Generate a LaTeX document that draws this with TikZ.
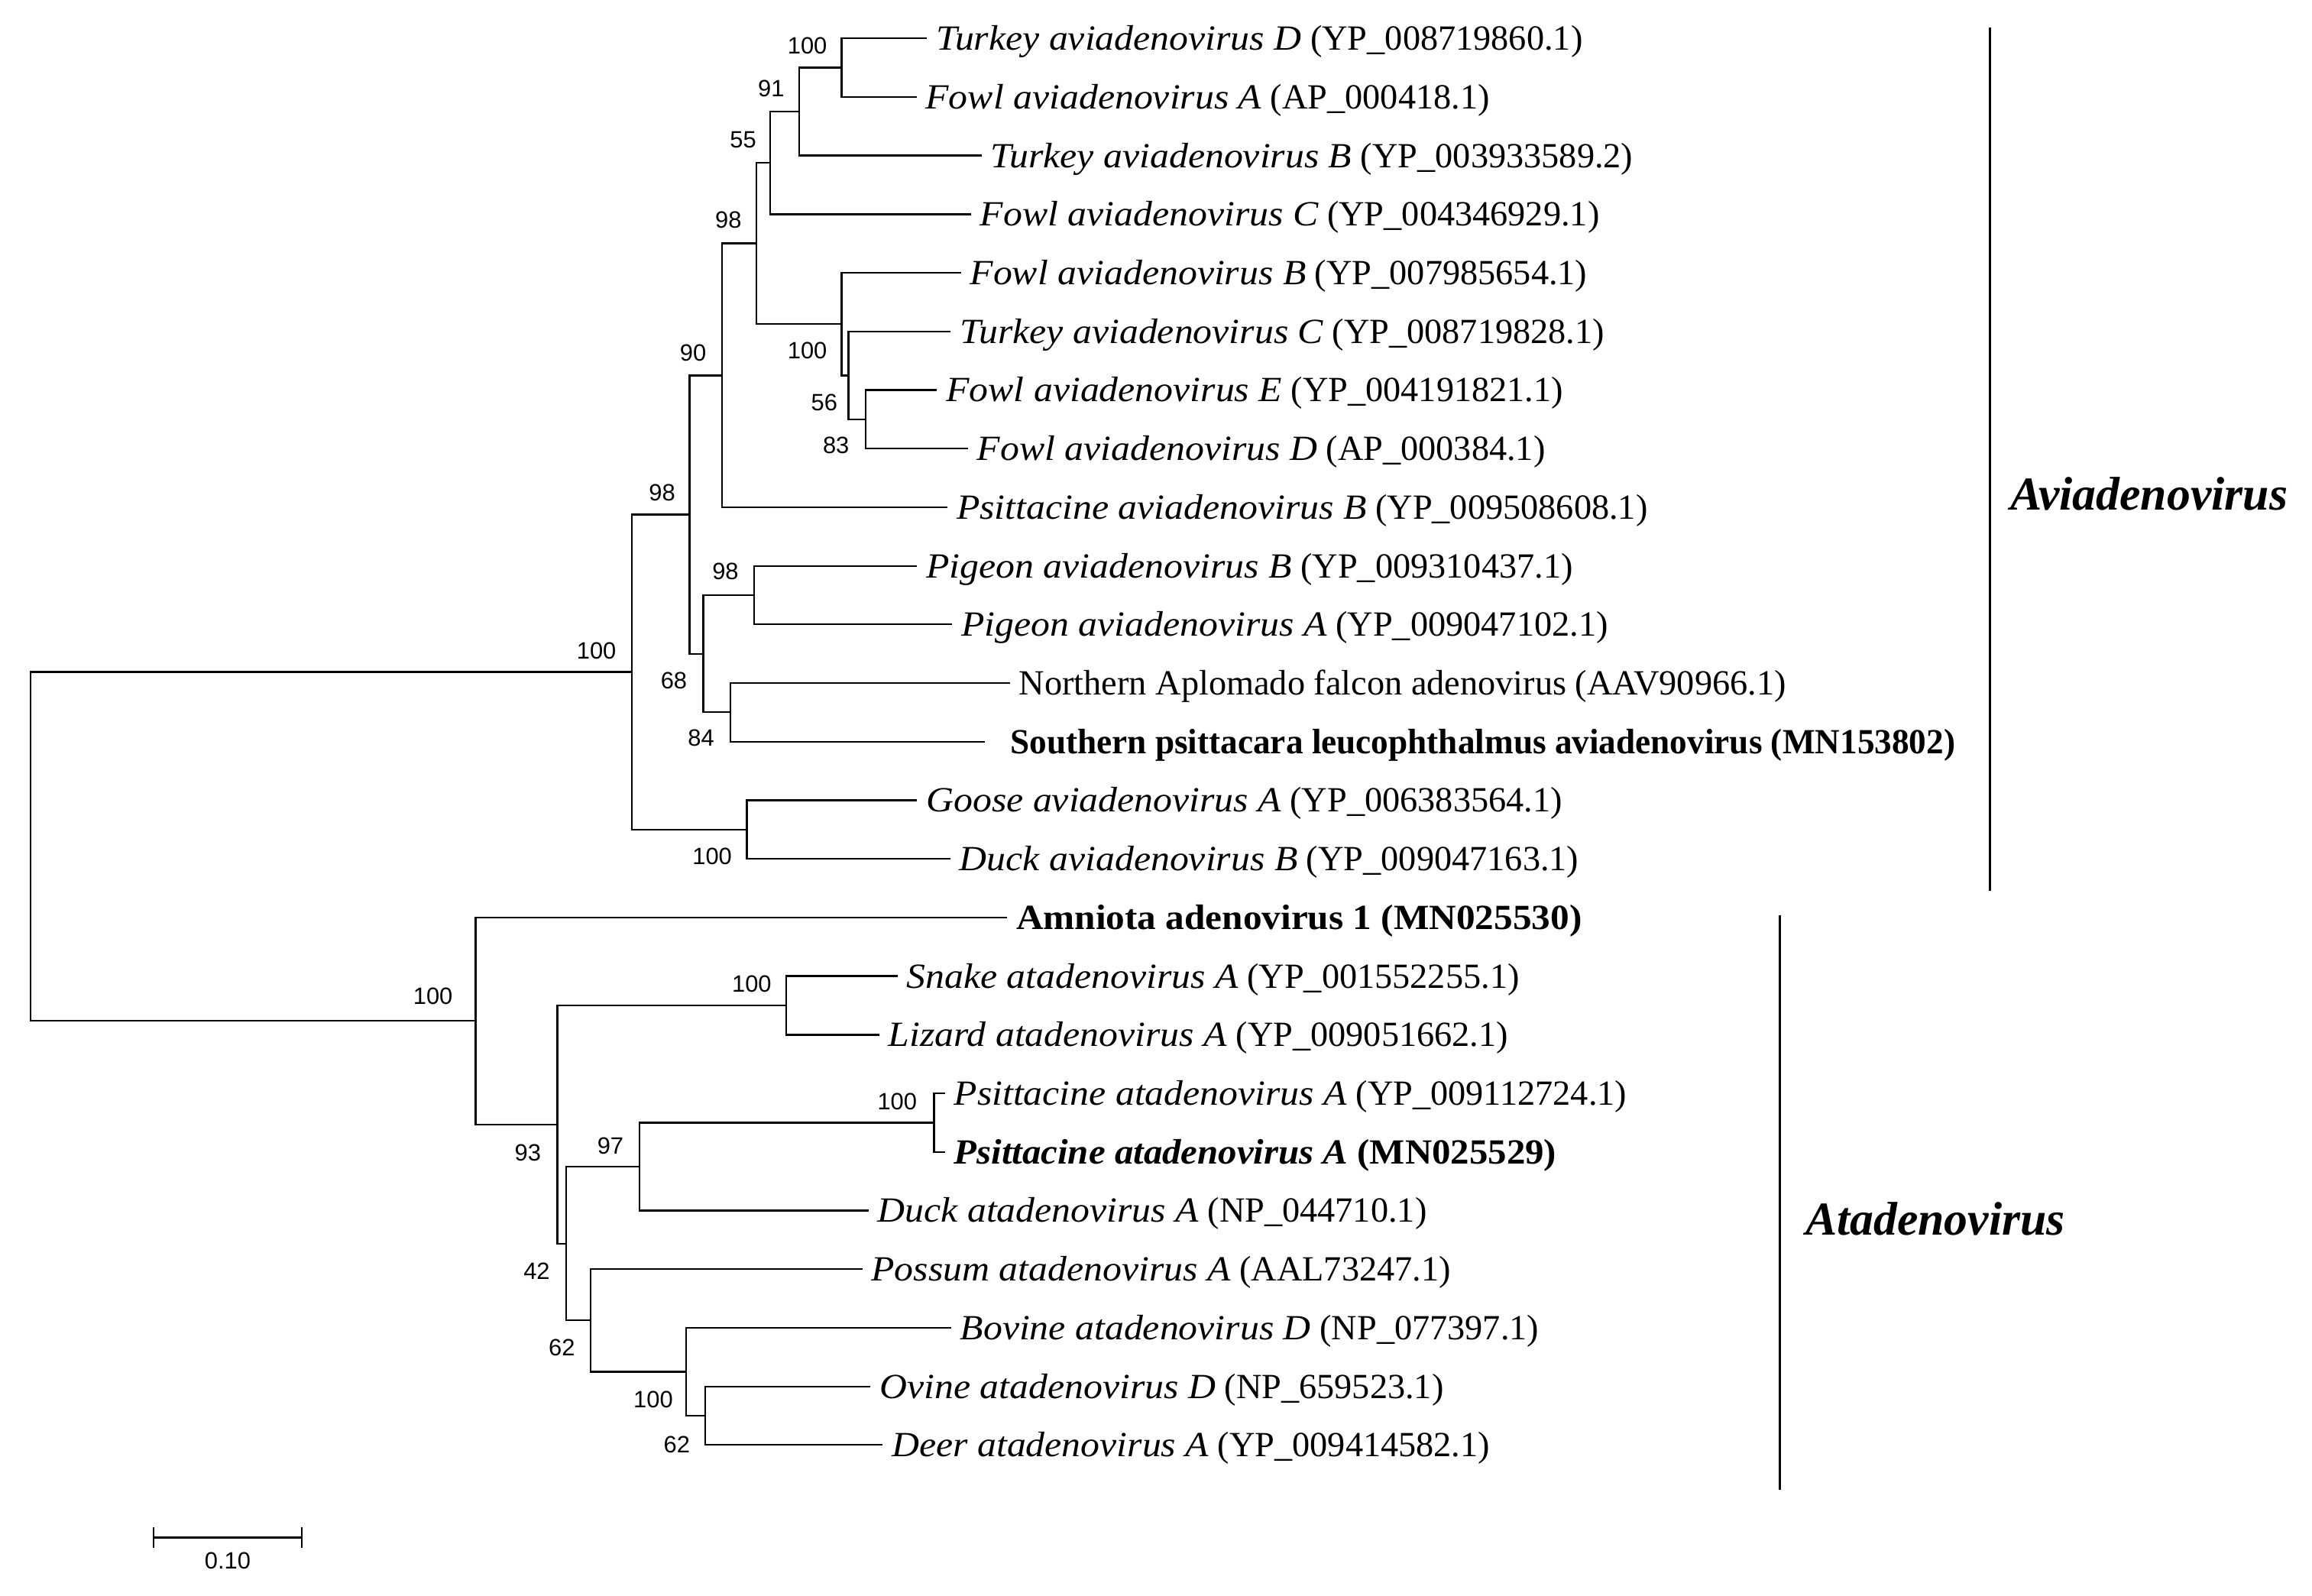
\documentclass[tikz,border=0pt]{standalone}
\usepackage{graphicx}
\usepackage{fontspec}
\setmainfont{Liberation Serif}
\setsansfont{Liberation Sans}
\usetikzlibrary{calc}

\newcommand{\spname}[1]{\scalebox{1.075}[1]{\itshape #1}}

\tikzset{
  branch/.style={line width=1.2pt},
  cladebar/.style={line width=1.5pt},
  leaf/.style={anchor=base west, inner sep=0pt, xshift=6pt, yshift=-8pt,
    font=\fontsize{24}{24}\selectfont},
  boot/.style={inner sep=0pt, font=\sffamily\fontsize{16}{16}\selectfont},
  clade/.style={inner sep=0pt, font=\fontsize{32}{32}\selectfont\bfseries\itshape},
}

\begin{document}
\begin{tikzpicture}[x=1pt, y=-1pt]
  \useasboundingbox (0,0) rectangle (1568,1082);

  % tips
  \coordinate (t1) at (628.6,26) {};
  \coordinate (t2) at (621.6,65.8) {};
  \coordinate (t3) at (665.6,105.5) {};
  \coordinate (t4) at (658.6,145.3) {};
  \coordinate (t5) at (651.7,185) {};
  \coordinate (t6) at (644.8,224.8) {};
  \coordinate (t7) at (635.5,264.5) {};
  \coordinate (t8) at (656.4,304.3) {};
  \coordinate (t9) at (642.6,344) {};
  \coordinate (t10) at (622,383.8) {};
  \coordinate (t11) at (645.8,423.5) {};
  \coordinate (t12) at (685,463.3) {};
  \coordinate (t13) at (668,503) {};
  \coordinate (t14) at (622,542.8) {};
  \coordinate (t15) at (644.6,582.5) {};
  \coordinate (t16) at (683,622.3) {};
  \coordinate (t17) at (608.6,662) {};
  \coordinate (t18) at (596.2,701.8) {};
  \coordinate (t19) at (640.8,741.5) {};
  \coordinate (t20) at (640.8,781.3) {};
  \coordinate (t21) at (589,821) {};
  \coordinate (t22) at (584.8,860.8) {};
  \coordinate (t23) at (645,900.5) {};
  \coordinate (t24) at (590.4,940.3) {};
  \coordinate (t25) at (598.7,980) {};

  % inner nodes
  \coordinate (root) at (20.7,574.1) {};
  \coordinate (navi) at (428.5,455.8) {};
  \coordinate (n98a) at (467.6,349) {};
  \coordinate (n90) at (489.8,254.6) {};
  \coordinate (n98b) at (512.9,165.1) {};
  \coordinate (n55) at (522.2,110.5) {};
  \coordinate (n91) at (542,75.7) {};
  \coordinate (n100a) at (570.8,45.9) {};
  \coordinate (n100b) at (570.8,219.8) {};
  \coordinate (n56) at (575.4,254.6) {};
  \coordinate (n83) at (587,284.4) {};
  \coordinate (n68) at (477,443.4) {};
  \coordinate (npig) at (511.5,403.6) {};
  \coordinate (n84) at (495.5,483.1) {};
  \coordinate (ngd) at (506.5,562.6) {};
  \coordinate (nata) at (322.5,692.4) {};
  \coordinate (n93) at (378,762.6) {};
  \coordinate (nsl) at (533.2,681.9) {};
  \coordinate (n42) at (384,843.4) {};
  \coordinate (n97) at (433.6,791.2) {};
  \coordinate (npsa) at (633.4,761.4) {};
  \coordinate (n62a) at (400.7,895.5) {};
  \coordinate (nbov) at (465.4,930.3) {};
  \coordinate (n62b) at (478.4,960.1) {};

  % branches
  \draw[branch] (root) |- (navi) (root) |- (nata);
  \draw[branch] (navi) |- (n98a) (navi) |- (ngd);
  \draw[branch] (n98a) |- (n90) (n98a) |- (n68);
  \draw[branch] (n90) |- (n98b) (n90) |- (t9);
  \draw[branch] (n98b) |- (n55) (n98b) |- (n100b);
  \draw[branch] (n55) |- (n91) (n55) |- (t4);
  \draw[branch] (n91) |- (n100a) (n91) |- (t3);
  \draw[branch] (n100a) |- (t1) (n100a) |- (t2);
  \draw[branch] (n100b) |- (t5) (n100b) |- (n56);
  \draw[branch] (n56) |- (t6) (n56) |- (n83);
  \draw[branch] (n83) |- (t7) (n83) |- (t8);
  \draw[branch] (n68) |- (npig) (n68) |- (n84);
  \draw[branch] (npig) |- (t10) (npig) |- (t11);
  \draw[branch] (n84) |- (t12) (n84) |- (t13);
  \draw[branch] (ngd) |- (t14) (ngd) |- (t15);
  \draw[branch] (nata) |- (t16) (nata) |- (n93);
  \draw[branch] (n93) |- (nsl) (n93) |- (n42);
  \draw[branch] (nsl) |- (t17) (nsl) |- (t18);
  \draw[branch] (n42) |- (n97) (n42) |- (n62a);
  \draw[branch] (n97) |- (npsa) (n97) |- (t21);
  \draw[branch] (npsa) |- (t19) (npsa) |- (t20);
  \draw[branch] (n62a) |- (t22) (n62a) |- (nbov);
  \draw[branch] (nbov) |- (t23) (nbov) |- (n62b);
  \draw[branch] (n62b) |- (t24) (n62b) |- (t25);

  % taxa
  \node[leaf] (l1) at (t1) {\spname{Turkey aviadenovirus D} (YP\_008719860.1)};
  \node[leaf] (l2) at (t2) {\spname{Fowl aviadenovirus A} (AP\_000418.1)};
  \node[leaf] (l3) at (t3) {\spname{Turkey aviadenovirus B} (YP\_003933589.2)};
  \node[leaf] (l4) at (t4) {\spname{Fowl aviadenovirus C} (YP\_004346929.1)};
  \node[leaf] (l5) at (t5) {\spname{Fowl aviadenovirus B} (YP\_007985654.1)};
  \node[leaf] (l6) at (t6) {\spname{Turkey aviadenovirus C} (YP\_008719828.1)};
  \node[leaf] (l7) at (t7) {\spname{Fowl aviadenovirus E} (YP\_004191821.1)};
  \node[leaf] (l8) at (t8) {\spname{Fowl aviadenovirus D} (AP\_000384.1)};
  \node[leaf] (l9) at (t9) {\spname{Psittacine aviadenovirus B} (YP\_009508608.1)};
  \node[leaf] (l10) at (t10) {\spname{Pigeon aviadenovirus B} (YP\_009310437.1)};
  \node[leaf] (l11) at (t11) {\spname{Pigeon aviadenovirus A} (YP\_009047102.1)};
  \node[leaf] (l12) at (t12) {Northern Aplomado falcon adenovirus (AAV90966.1)};
  \node[leaf, xshift=11pt] (l13) at (t13) {\scalebox{0.977}[1]{\bfseries Southern psittacara leucophthalmus aviadenovirus (MN153802)}};
  \node[leaf] (l14) at (t14) {\spname{Goose aviadenovirus A} (YP\_006383564.1)};
  \node[leaf] (l15) at (t15) {\spname{Duck aviadenovirus B} (YP\_009047163.1)};
  \node[leaf] (l16) at (t16) {\scalebox{1.064}[1]{\bfseries Amniota adenovirus 1 (MN025530)}};
  \node[leaf] (l17) at (t17) {\spname{Snake atadenovirus A} (YP\_001552255.1)};
  \node[leaf] (l18) at (t18) {\spname{Lizard atadenovirus A} (YP\_009051662.1)};
  \node[leaf] (l19) at (t19) {\spname{Psittacine atadenovirus A} (YP\_009112724.1)};
  \node[leaf] (l20) at (t20) {\scalebox{1.055}[1]{\bfseries\itshape Psittacine atadenovirus A \upshape(MN025529)}};
  \node[leaf] (l21) at (t21) {\spname{Duck atadenovirus A} (NP\_044710.1)};
  \node[leaf] (l22) at (t22) {\spname{Possum atadenovirus A} (AAL73247.1)};
  \node[leaf] (l23) at (t23) {\spname{Bovine atadenovirus D} (NP\_077397.1)};
  \node[leaf] (l24) at (t24) {\spname{Ovine atadenovirus D} (NP\_659523.1)};
  \node[leaf] (l25) at (t25) {\spname{Deer atadenovirus A} (YP\_009414582.1)};

  % bootstrap values
  \node[boot] (bnavi) at (404.5,441.5) {100};
  \node[boot] (bn98a) at (449,334) {98};
  \node[boot] (bn90) at (470,239.5) {90};
  \node[boot] (bn98b) at (494,149) {98};
  \node[boot] (bn55) at (504,95) {55};
  \node[boot] (bn91) at (523,60) {91};
  \node[boot] (bn100a) at (547.5,31) {100};
  \node[boot] (bn100b) at (547.5,238) {100};
  \node[boot] (bn56) at (559,273) {56};
  \node[boot] (bn83) at (567,302) {83};
  \node[boot] (bnpig) at (492,387.5) {98};
  \node[boot] (bn68) at (457,461.5) {68};
  \node[boot] (bn84) at (475.5,500.5) {84};
  \node[boot] (bngd) at (483,581) {100};
  \node[boot] (bnata) at (293.6,675.4) {100};
  \node[boot] (bnsl) at (509.8,667.4) {100};
  \node[boot] (bnpsa) at (608.5,747) {100};
  \node[boot] (bn97) at (414,777) {97};
  \node[boot] (bn93) at (358,782) {93};
  \node[boot] (bn42) at (364,862) {42};
  \node[boot] (bn62a) at (381,914) {62};
  \node[boot] (bnbov) at (443,949) {100};
  \node[boot] (bn62b) at (459,980) {62};

  % genera
  \coordinate (avitop) at (1349.5,18.5) {};
  \coordinate (avibot) at (1349.5,604) {};
  \coordinate (atatop) at (1207,621) {};
  \coordinate (atabot) at (1207,1010.5) {};
  \draw[cladebar] (avitop) -- (avibot);
  \draw[cladebar] (atatop) -- (atabot);
  \node[clade] (avi) at (1457.5,335) {Aviadenovirus};
  \node[clade] (ata) at (1312.5,826.5) {Atadenovirus};

  % scale
  \coordinate (sbl) at (104.2,1043) {};
  \coordinate (sbr) at (204.6,1043) {};
  \draw[line width=1.5pt] (sbl) -- (sbr);
  \draw[line width=1pt] ([yshift=7pt]sbl) -- ([yshift=-7pt]sbl);
  \draw[line width=1pt] ([yshift=7pt]sbr) -- ([yshift=-7pt]sbr);
  \node[boot] (sblab) at (154.4,1058.5) {0.10};
\end{tikzpicture}
\end{document}
